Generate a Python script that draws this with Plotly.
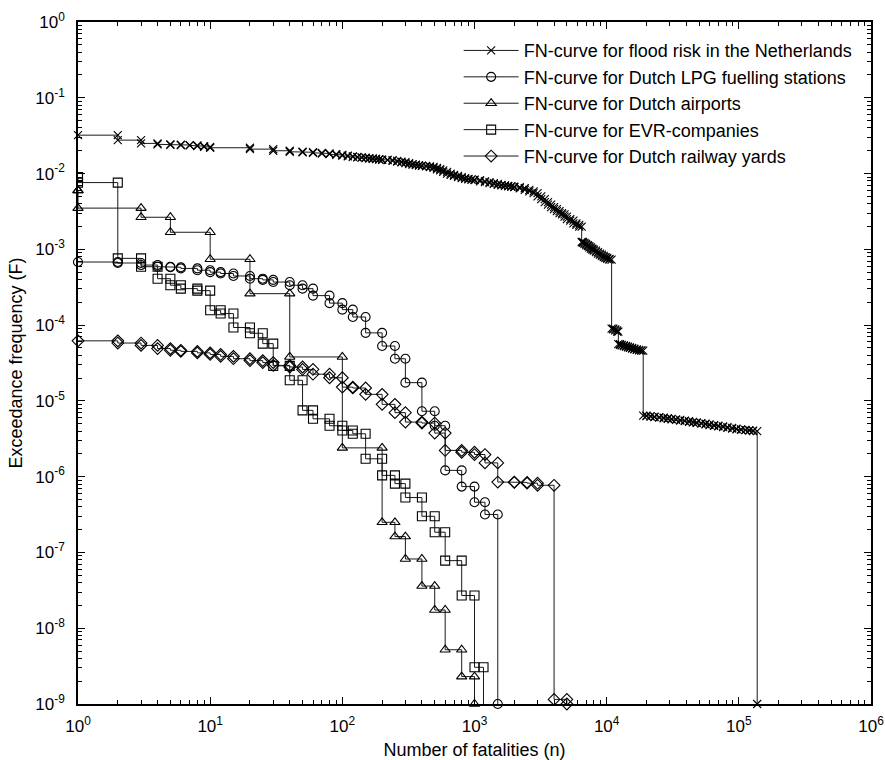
import plotly.graph_objects as go

# FN-curve data: number of fatalities n and exceedance frequency F(N >= n)
flood_n = [1, 2, 3, 4, 5, 6, 7, 8, 9, 10, 20, 30, 40, 50, 60, 70, 80, 90,
           100, 110, 120, 130, 140, 150, 160, 170, 180, 190, 200, 220, 240, 260,
           280, 300, 320, 340, 360, 380, 400, 430, 460, 490, 520, 550, 580, 620,
           660, 700, 750, 800, 850, 900, 950, 1000, 1100, 1200, 1300, 1400, 1500,
           1600, 1700, 1800, 1900, 2000, 2200, 2400, 2600, 2800, 3000, 3200, 3400,
           3600, 3800, 4000, 4200, 4400, 4600, 4800, 5000, 5300, 5600, 5900, 6200,
           6470, 6600, 6800, 7000, 7200, 7400, 7600, 7800, 8000, 8300, 8600, 8900,
           9200, 9500, 9800, 10100, 10500, 10900, 11200, 11600, 12000, 12250,
           12600, 13000, 13500, 14000, 14500, 15000, 15600, 16200, 16900, 17600,
           18300, 18900, 20000, 21500, 23000, 25000, 27000, 29000, 31000, 33500,
           36000, 39000, 42000, 45000, 48000, 52000, 56000, 60000, 65000, 70000,
           76000, 82000, 89000, 96000, 104000, 112000, 120000, 128000, 137700]
flood_f = [0.0321, 0.0276, 0.0250, 0.0243, 0.0240, 0.0238, 0.0235, 0.0230,
           0.0225, 0.0219, 0.0210, 0.0200, 0.0194, 0.0191, 0.0188, 0.0184,
           0.0180, 0.0176, 0.0172, 0.0169, 0.0166, 0.0164, 0.0162, 0.0160,
           0.0158, 0.0156, 0.0155, 0.0153, 0.0152, 0.0150, 0.0147, 0.0144,
           0.0141, 0.0137, 0.0133, 0.0131, 0.0129, 0.0127, 0.0126, 0.0124,
           0.0122, 0.0119, 0.0114, 0.0110, 0.0105, 0.0100, 0.0096, 0.0093,
           0.0090, 0.0087, 0.0085, 0.0084, 0.0083, 0.0082, 0.0079, 0.0077,
           0.0075, 0.0073, 0.0071, 0.0070, 0.0069, 0.0068, 0.0067, 0.0066,
           0.0064, 0.0061, 0.0058, 0.0055, 0.0050, 0.0046, 0.0042, 0.0039,
           0.0036, 0.0034, 0.0032, 0.0030, 0.0029, 0.0027, 0.0025, 0.0024,
           0.0022, 0.0021, 0.0020, 0.00125, 0.00122, 0.00118, 0.00114, 0.00110,
           0.00106, 0.00102, 0.00099, 0.00096, 0.00092, 0.00088, 0.00085,
           0.00082, 0.00079, 0.00077, 0.00075, 0.00073, 9.0e-5, 8.8e-5, 8.5e-5,
           8.2e-5, 5.6e-5, 5.5e-5, 5.4e-5, 5.3e-5, 5.2e-5, 5.1e-5, 5.0e-5,
           4.9e-5, 4.8e-5, 4.7e-5, 4.65e-5, 4.6e-5, 6.4e-6, 6.3e-6, 6.2e-6,
           6.1e-6, 6.0e-6, 5.9e-6, 5.8e-6, 5.7e-6, 5.6e-6, 5.5e-6, 5.4e-6,
           5.3e-6, 5.2e-6, 5.1e-6, 5.0e-6, 4.9e-6, 4.8e-6, 4.7e-6, 4.6e-6,
           4.5e-6, 4.4e-6, 4.3e-6, 4.2e-6, 4.15e-6, 4.1e-6, 4.05e-6, 4.0e-6,
           1.0e-9]

lpg_n = [1, 2, 3, 4, 5, 6, 8, 10, 12, 15, 20, 25, 30, 40, 50, 60, 80, 100,
         120, 150, 200, 250, 300, 400, 500, 600, 800, 1000, 1200, 1500]
lpg_f = [6.8e-4, 6.6e-4, 6.2e-4, 5.9e-4, 5.8e-4, 5.6e-4, 5.3e-4, 5.0e-4,
         4.8e-4, 4.45e-4, 4.1e-4, 3.95e-4, 3.7e-4, 3.36e-4, 3.03e-4, 2.45e-4,
         1.95e-4, 1.6e-4, 1.28e-4, 7.9e-5, 5.3e-5, 3.6e-5, 1.74e-5, 7.3e-6,
         4.7e-6, 1.21e-6, 7.4e-7, 4.6e-7, 3.17e-7, 1.0e-9]

airport_n = [1, 1, 3, 5, 10, 20, 40, 100, 200, 250, 300, 400, 500, 600, 800,
             1000]
airport_f = [6.0e-3, 3.5e-3, 2.65e-3, 1.68e-3, 7.4e-4, 2.6e-4, 3.8e-5, 2.4e-6,
             2.5e-7, 1.62e-7, 8.2e-8, 3.6e-8, 1.74e-8, 5.2e-9, 2.3e-9, 1.0e-9]

evr_n = [1, 1, 2, 3, 4, 5, 6, 8, 10, 12, 15, 20, 25, 30, 40, 50, 60, 80, 100,
         120, 150, 200, 250, 300, 400, 500, 600, 800, 1000, 1170]
evr_f = [9.0e-3, 7.6e-3, 7.6e-4, 5.9e-4, 4.1e-4, 3.36e-4, 3.03e-4, 2.85e-4,
         1.57e-4, 1.42e-4, 9.3e-5, 7.8e-5, 5.7e-5, 2.9e-5, 1.87e-5, 7.5e-6,
         5.8e-6, 4.7e-6, 4.07e-6, 3.68e-6, 1.72e-6, 1.04e-6, 8.1e-7, 5.3e-7,
         3.0e-7, 1.85e-7, 7.8e-8, 2.7e-8, 3.05e-9, 1.0e-10]

rail_n = [1, 2, 3, 4, 5, 6, 8, 10, 12, 15, 20, 25, 30, 40, 50, 60, 80, 100,
          120, 150, 200, 250, 300, 400, 500, 600, 800, 1000, 1200, 1500, 2000,
          2500, 3000, 4000, 5000]
rail_f = [6.2e-5, 5.8e-5, 5.4e-5, 4.9e-5, 4.65e-5, 4.5e-5, 4.3e-5, 4.1e-5,
          3.87e-5, 3.6e-5, 3.4e-5, 3.2e-5, 2.94e-5, 2.8e-5, 2.6e-5, 2.25e-5,
          2.02e-5, 1.52e-5, 1.48e-5, 1.22e-5, 9.0e-6, 7.0e-6, 5.25e-6, 5.1e-6,
          3.76e-6, 2.22e-6, 2.1e-6, 1.96e-6, 1.52e-6, 8.5e-7, 8.4e-7, 8.2e-7,
          7.7e-7, 1.15e-9, 1.0e-9]

series_names = ["FN-curve for flood risk in the Netherlands",
                "FN-curve for Dutch LPG fuelling stations",
                "FN-curve for Dutch airports",
                "FN-curve for EVR-companies",
                "FN-curve for Dutch railway yards"]

x_exponents = list(range(0, 7))
y_exponents = list(range(-9, 1))
x_tick_labels = ["10<sup>%d</sup>" % e for e in x_exponents]
y_tick_labels = ["10<sup>%d</sup>" % e for e in y_exponents]


def staircase(ns, fs):
    """Vertices of an FN step curve: horizontal run, then a vertical drop."""
    xs, ys = [ns[0]], [fs[0]]
    for i in range(1, len(ns)):
        xs += [ns[i], ns[i]]
        ys += [fs[i - 1], fs[i]]
    return xs, ys


series = [
    (flood_n, flood_f, "x-thin-open", 8, False),
    (lpg_n, lpg_f, "circle-open", 9, False),
    (airport_n, airport_f, "triangle-up-open", 9, False),
    (evr_n, evr_f, "square-open", 9, True),
    (rail_n, rail_f, "diamond-open", 9, False),
]

fig = go.Figure()
for name, (ns, fs, symbol, size, clip) in zip(series_names, series):
    xs, ys = staircase(ns, fs)
    fig.add_trace(go.Scatter(
        x=xs, y=ys, name=name, mode="lines+markers",
        line=dict(color="#1a1a1a", width=1),
        marker=dict(symbol=symbol, size=size, color="black",
                    line=dict(color="black", width=1.1)),
        cliponaxis=clip, legendgroup=name,
    ))

minor_x = [k * 10.0 ** e for e in x_exponents[:-1] for k in range(2, 10)]
minor_y = [k * 10.0 ** e for e in y_exponents[:-1] for k in range(2, 10)]

font_family = "Arial, 'Liberation Sans', sans-serif"
axis_common = dict(
    type="log", tickmode="array", ticks="inside", ticklen=7, tickwidth=1,
    tickcolor="black", showline=True, linecolor="black", linewidth=1.5,
    mirror="ticks", showgrid=False, zeroline=False, automargin=False,
    tickfont=dict(family=font_family, size=17, color="black"),
)

fig.update_layout(
    width=885, height=760,
    margin=dict(l=78, r=14, t=22, b=56),
    paper_bgcolor="white", plot_bgcolor="white",
    font=dict(family=font_family, size=18, color="black"),
    xaxis=dict(
        range=[0, 6], tickvals=[10.0 ** e for e in x_exponents],
        ticktext=x_tick_labels, ticklabelstandoff=6,
        minor=dict(tickmode="array", tickvals=minor_x, ticks="inside",
                   ticklen=4, tickwidth=1, tickcolor="black", showgrid=False),
        title=dict(text="Number of fatalities (n)", standoff=8,
                   font=dict(family=font_family, size=18)),
        **axis_common,
    ),
    yaxis=dict(
        range=[-9, 0], tickvals=[10.0 ** e for e in y_exponents],
        ticktext=y_tick_labels, ticklabelstandoff=8,
        minor=dict(tickmode="array", tickvals=minor_y, ticks="inside",
                   ticklen=4, tickwidth=1, tickcolor="black", showgrid=False),
        title=dict(text="Exceedance frequency (F)", standoff=8,
                   font=dict(family=font_family, size=18)),
        **axis_common,
    ),
    legend=dict(
        x=0.48, y=0.985, xanchor="left", yanchor="top",
        bgcolor="rgba(0,0,0,0)", borderwidth=0, itemwidth=55,
        font=dict(family=font_family, size=18, color="black"),
        tracegroupgap=0,
    ),
    showlegend=True,
)

fig.write_html("out.html")
